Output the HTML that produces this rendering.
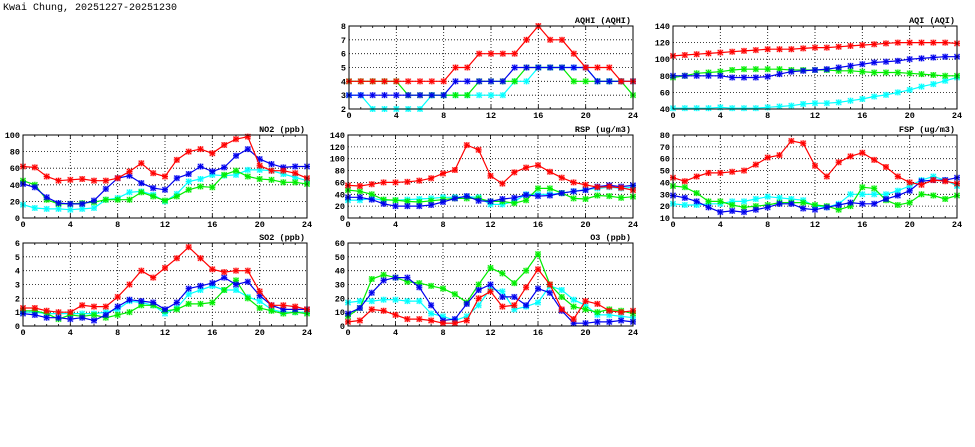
<!DOCTYPE html>
<html><head><meta charset="utf-8"><style>
html,body{margin:0;padding:0;background:#fff;}
svg{display:block;}
text{font-family:"Liberation Mono","DejaVu Sans Mono",monospace;font-weight:bold;fill:#000;}
</style></head><body>
<svg id="s" width="975" height="447" xmlns="http://www.w3.org/2000/svg">
<text x="3" y="10" font-size="10" style="font-weight:normal">Kwai Chung, 20251227-20251230</text>
</svg>
<script>
const P=[
{t:"AQHI (AQHI)",x0:349,x1:633,y0:26,y1:109,mn:2,mx:8,st:1,d:{
c:[3,3,2,2,2,2,2,3,3,3,3,3,3,3,4,4,5,5,5,5,5,4,4,4,4],
g:[4,4,4,4,4,3,3,3,3,3,3,4,4,4,4,5,5,5,5,4,4,4,4,4,3],
b:[3,3,3,3,3,3,3,3,3,4,4,4,4,4,5,5,5,5,5,5,5,4,4,4,4],
r:[4,4,4,4,4,4,4,4,4,5,5,6,6,6,6,7,8,7,7,6,5,5,5,4,4]}},
{t:"AQI (AQI)",x0:673,x1:957,y0:26,y1:109,mn:40,mx:140,st:20,d:{
c:[41,41,41,41,42,41,41,41,42,43,44,46,47,47,48,50,52,55,57,60,63,67,70,74,78],
g:[78,80,83,84,85,87,88,88,88,88,87,87,87,87,86,86,85,84,84,84,83,82,81,80,80],
b:[80,80,80,80,80,78,78,78,79,82,85,86,87,88,90,92,94,96,97,98,100,101,102,103,103],
r:[104,105,106,107,108,109,110,111,112,112,112,113,114,114,115,116,117,118,119,120,120,120,120,120,119]}},
{t:"NO2 (ppb)",x0:23,x1:307,y0:135,y1:218,mn:0,mx:100,st:20,d:{
c:[16,12,11,11,10,11,12,22,24,31,32,28,20,29,44,47,52,51,52,58,58,57,53,49,45],
g:[45,40,22,17,17,18,19,22,22,22,31,26,21,26,34,38,37,52,57,50,47,46,43,43,41],
b:[41,37,25,18,17,17,21,35,48,51,42,36,34,48,53,62,56,61,75,83,71,65,61,62,62],
r:[62,61,50,45,46,47,45,45,48,56,66,54,50,70,80,83,78,88,95,98,63,57,57,54,48]}},
{t:"RSP (ug/m3)",x0:348,x1:633,y0:135,y1:218,mn:0,mx:140,st:20,d:{
c:[30,30,33,30,30,31,32,33,35,35,36,35,23,23,28,40,40,40,42,45,48,50,52,50,52],
g:[47,45,40,31,30,28,27,29,31,33,33,33,28,28,25,30,50,50,42,33,32,38,37,34,36],
b:[35,35,31,24,20,20,20,22,27,33,37,29,28,32,34,39,37,38,42,45,47,53,55,53,55],
r:[55,54,57,60,60,61,63,67,75,81,123,115,71,58,77,85,89,78,68,60,56,52,53,51,47]}},
{t:"FSP (ug/m3)",x0:673,x1:957,y0:135,y1:218,mn:10,mx:80,st:10,d:{
c:[22,21,21,22,22,24,24,26,28,27,26,25,20,19,22,30,30,30,30,33,37,42,45,42,37],
g:[37,36,31,24,24,21,19,20,21,23,23,23,21,20,17,20,36,35,25,21,23,30,29,26,29],
b:[29,27,24,19,15,16,15,17,19,22,22,18,17,19,21,23,22,22,26,29,33,41,42,42,44],
r:[44,41,45,48,48,49,50,55,61,63,75,73,54,45,57,62,65,59,53,45,40,38,42,41,39]}},
{t:"SO2 (ppb)",x0:23,x1:307,y0:243,y1:326,mn:0,mx:6,st:1,d:{
c:[1,1,.9,.9,.9,.9,.9,1,1.2,1.8,1.7,1.5,.9,1.3,2.3,2.6,2.9,2.6,2.6,2.1,1.8,1.2,1,1,1],
g:[1.1,1.1,.9,.5,.8,.7,.8,.6,.8,1,1.5,1.5,1.1,1.2,1.6,1.6,1.7,2.6,3.3,2,1.3,1.1,.9,1,.9],
b:[.9,.8,.6,.6,.5,.6,.4,.8,1.4,1.9,1.8,1.7,1.2,1.7,2.7,2.9,3.1,3.5,3,3.2,2.2,1.5,1.2,1.2,1.2],
r:[1.3,1.3,1.1,1,1,1.5,1.4,1.4,2.1,3,4,3.5,4.2,4.9,5.7,4.9,4.1,3.9,4,4,2.5,1.5,1.5,1.4,1.2]}},
{t:"O3 (ppb)",x0:348,x1:633,y0:243,y1:326,mn:0,mx:60,st:10,d:{
c:[17,18,18,19,19,18,18,9,7,4,7,15,27,25,12,14,17,29,26,19,15,8,8,7,6],
g:[7,13,34,37,35,32,31,29,27,23,17,30,42,38,31,40,52,30,21,14,12,10,12,11,9],
b:[9,13,24,33,35,35,28,15,4,5,16,26,30,21,21,15,27,24,11,2,2,3,3,4,3],
r:[3,4,12,11,8,5,5,4,2,2,4,20,25,14,15,28,41,30,12,5,18,16,11,10,11]}}
];
const C={c:"#00ffff",g:"#00ee00",b:"#0000ee",r:"#ff0000"};
let h="";
for(const p of P){
 const X=v=>p.x0+(p.x1-p.x0)*v/24, Y=v=>p.y1-(p.y1-p.y0)*(v-p.mn)/(p.mx-p.mn);
 for(let v=p.mn+p.st;v<p.mx-1e-9;v+=p.st){const y=Y(v).toFixed(1);h+=`<line x1="${p.x0}" x2="${p.x1}" y1="${y}" y2="${y}" stroke="#000" stroke-width="0.8" stroke-dasharray="1,2"/>`;}
 for(let v=4;v<24;v+=4){const x=X(v).toFixed(1);h+=`<line x1="${x}" x2="${x}" y1="${p.y0}" y2="${p.y1}" stroke="#000" stroke-width="0.8" stroke-dasharray="1,2"/>`;}
 for(let v=0;v<=24;v++){const x=X(v).toFixed(1);const L=v%4==0?4:2;h+=`<line x1="${x}" x2="${x}" y1="${p.y1}" y2="${p.y1-L}" stroke="#000" stroke-width="0.8"/><line x1="${x}" x2="${x}" y1="${p.y0}" y2="${p.y0+L}" stroke="#000" stroke-width="0.8"/>`;
  if(v%4==0)h+=`<text x="${x}" y="${p.y1+9}" font-size="8.5" text-anchor="middle">${v}</text>`;}
 for(let v=p.mn;v<=p.mx+1e-9;v+=p.st){const y=Y(v).toFixed(1);h+=`<text x="${p.x0-3}" y="${(+y+3).toFixed(1)}" font-size="8.5" text-anchor="end">${Math.round(v)}</text>`;}
 h+=`<text x="${p.x1-2}" y="${p.y0-3}" font-size="8.5" text-anchor="end">${p.t}</text>`;
 for(const k of ["c","g","b","r"]){const a=p.d[k];let pts=a.map((v,i)=>X(i).toFixed(1)+","+Y(v).toFixed(1)).join(" ");
  h+=`<polyline points="${pts}" fill="none" stroke="${C[k]}" stroke-width="1.2"/>`;
  a.forEach((v,i)=>{const x=X(i),y=Y(v);h+=`<rect x="${(x-3).toFixed(1)}" y="${(y-3).toFixed(1)}" width="6" height="6" fill="${C[k]}" opacity="0.35"/><path d="M${x-2.5},${y-2.5}L${x+2.5},${y+2.5}M${x-2.5},${y+2.5}L${x+2.5},${y-2.5}M${x-3},${y}H${x+3}M${x},${y-3}V${y+3}" stroke="${C[k]}" stroke-width="1"/>`;});}
 h+=`<rect x="${p.x0}" y="${p.y0}" width="${p.x1-p.x0}" height="${p.y1-p.y0}" fill="none" stroke="#000" stroke-width="1"/>`;
}
document.getElementById("s").insertAdjacentHTML("beforeend",h);
</script>
</body></html>
